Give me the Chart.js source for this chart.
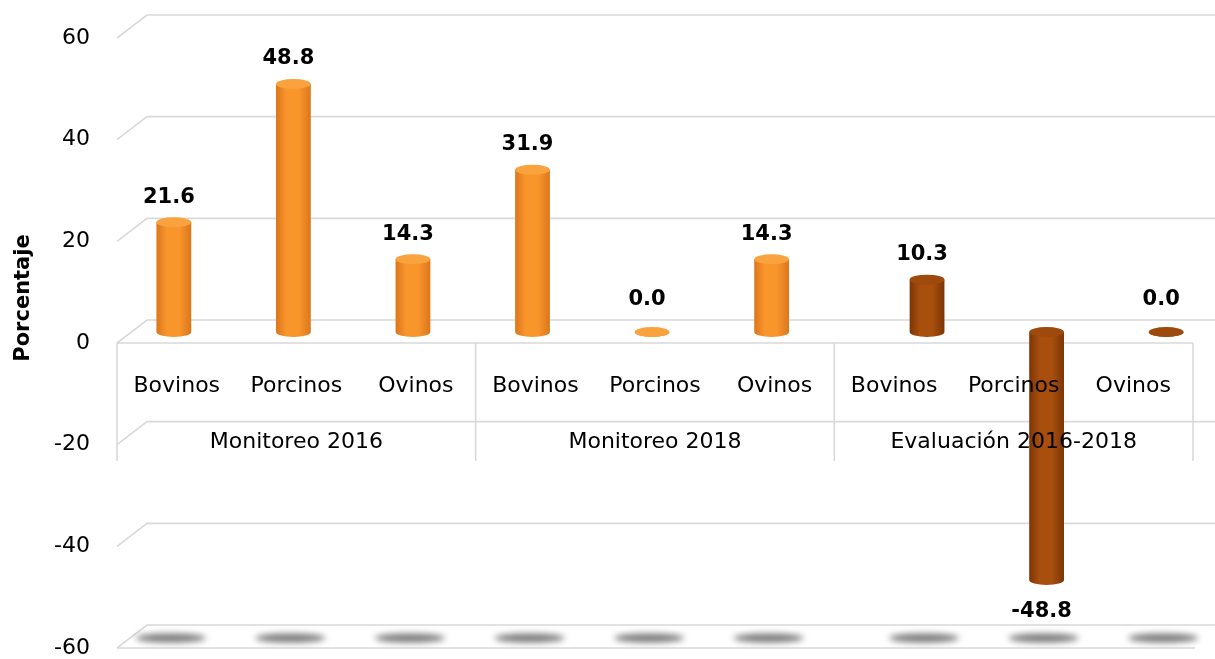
<!DOCTYPE html>
<html><head><meta charset="utf-8">
<script src="https://cdn.jsdelivr.net/npm/chart.js@4.4.1/dist/chart.umd.min.js"></script>
<style>html,body{margin:0;padding:0;background:#fff}#wrap{width:1215px;height:659px;position:relative}</style>
</head><body><div id="wrap"><canvas id="c" width="1215" height="659"></canvas></div>
<script>
const categories = ['Bovinos', 'Porcinos', 'Ovinos', 'Bovinos', 'Porcinos', 'Ovinos', 'Bovinos', 'Porcinos', 'Ovinos'];
const groups = ['Monitoreo 2016', 'Monitoreo 2018', 'Evaluación 2016-2018'];
const monitoreo = [21.6, 48.8, 14.3, 31.9, 0.0, 14.3, null, null, null];
const evaluacion = [null, null, null, null, null, null, 10.3, -48.8, 0.0];
const yTicks = [-60, -40, -20, 0, 20, 40, 60];
const yTitle = 'Porcentaje';

const FONT = '"DejaVu Sans", sans-serif';
const DX = 15, DY = -11, BX = 30, BY = -23;
const palette = [
  {edge: '#DC761C', mid: '#F8962C', cap: '#F9A23E'},
  {edge: '#7C3505', mid: '#A84F0E', cap: '#9E4A0C'}
];

function ellipse(ctx, cx, cy, rx, ry) {
  ctx.beginPath(); ctx.ellipse(cx, cy, rx, ry, 0, 0, Math.PI * 2); ctx.fill();
}

const threeD = {
  id: 'threeD',
  beforeDatasetsDraw(chart) {
    const {ctx, chartArea: a, scales: {x, y}} = chart;
    ctx.save();
    ctx.strokeStyle = '#d9d9d9'; ctx.lineWidth = 1.6;
    const line = (x1, y1, x2, y2) => { ctx.beginPath(); ctx.moveTo(x1, y1); ctx.lineTo(x2, y2); ctx.stroke(); };
    yTicks.forEach(v => {
      const yy = y.getPixelForValue(v);
      ctx.beginPath(); ctx.moveTo(a.left, yy); ctx.lineTo(a.left + BX, yy + BY); ctx.lineTo(chart.width, yy + BY); ctx.stroke();
    });
    const yb = y.getPixelForValue(yTicks[0]);
    line(a.left, yb, a.right + 2, yb);
    const y0 = y.getPixelForValue(0);
    line(a.left, y0, a.right, y0);
    // group dividers
    const bounds = [a.left];
    for (let g = 1; g < groups.length; g++) {
      const i = g * 3;
      bounds.push((x.getPixelForTick(i - 1) + x.getPixelForTick(i)) / 2);
    }
    bounds.push(a.right);
    bounds.forEach(b => line(b, y0, b, y0 + 118));
    chart.$bounds = bounds;
    // floor shadows
    ctx.filter = 'blur(3px)';
    ctx.fillStyle = 'rgba(100,100,100,0.85)';
    chart.data.datasets.forEach((ds, di) => {
      chart.getDatasetMeta(di).data.forEach((el, i) => {
        if (ds.data[i] == null) return;
        ellipse(ctx, el.x + DX - 3, yb + DY + 1, 35, 4.5);
      });
    });
    ctx.filter = 'none';
    ctx.restore();
    // gradients
    chart.data.datasets.forEach((ds, di) => {
      const p = palette[di];
      chart.getDatasetMeta(di).data.forEach((el, i) => {
        if (ds.data[i] == null) return;
        const w = el.width;
        const g = ctx.createLinearGradient(el.x - w / 2, 0, el.x + w / 2, 0);
        g.addColorStop(0, p.edge); g.addColorStop(0.3, p.mid); g.addColorStop(0.65, p.mid); g.addColorStop(1, p.edge);
        el.options = Object.assign({}, el.options, {backgroundColor: g});
        el.$grad = g;
      });
    });
    ctx.save();
    ctx.translate(DX, DY);
  },
  afterDatasetsDraw(chart) {
    const {ctx, chartArea: a, scales: {x, y}} = chart;
    chart.data.datasets.forEach((ds, di) => {
      const p = palette[di];
      chart.getDatasetMeta(di).data.forEach((el, i) => {
        const v = ds.data[i];
        if (v == null) return;
        const rx = el.width / 2, ry = 5;
        const topY = Math.min(el.y, el.base), botY = Math.max(el.y, el.base);
        ctx.fillStyle = el.$grad;
        ctx.beginPath(); ctx.ellipse(el.x, botY, rx, ry, 0, 0, Math.PI); ctx.fill();
        ctx.fillStyle = p.cap;
        ellipse(ctx, el.x, topY, rx, ry);
      });
    });
    // value labels
    ctx.fillStyle = '#000';
    ctx.font = 'bold 21px ' + FONT;
    ctx.textAlign = 'center'; ctx.textBaseline = 'middle';
    chart.data.datasets.forEach((ds, di) => {
      chart.getDatasetMeta(di).data.forEach((el, i) => {
        const v = ds.data[i];
        if (v == null) return;
        const topY = Math.min(el.y, el.base), botY = Math.max(el.y, el.base);
        const ly = v < 0 ? botY + 31 : (v === 0 ? topY - 32 : topY - 25);
        ctx.fillText(v.toFixed(1), el.x - 5, ly);
      });
    });
    ctx.restore();
    // category table text
    ctx.save();
    ctx.fillStyle = '#000';
    ctx.textAlign = 'center'; ctx.textBaseline = 'middle';
    ctx.font = '22px ' + FONT;
    const y0 = y.getPixelForValue(0);
    categories.forEach((c, i) => ctx.fillText(c, x.getPixelForTick(i), y0 + 43));
    const b = chart.$bounds;
    groups.forEach((g, i) => ctx.fillText(g, (b[i] + b[i + 1]) / 2, y0 + 99));
    // axis title
    ctx.font = 'bold 21px ' + FONT;
    ctx.translate(24, 298);
    ctx.rotate(-Math.PI / 2);
    ctx.fillText(yTitle, 0, 0);
    ctx.restore();
  }
};

new Chart(document.getElementById('c'), {
  type: 'bar',
  data: {
    labels: categories,
    datasets: [
      {label: 'Monitoreo', data: monitoreo, backgroundColor: palette[0].mid, borderWidth: 0},
      {label: 'Evaluación', data: evaluacion, backgroundColor: palette[1].mid, borderWidth: 0}
    ]
  },
  options: {
    responsive: false,
    devicePixelRatio: 1,
    animation: false,
    categoryPercentage: 0.6,
    barPercentage: 0.97,
    clip: false,
    layout: {padding: {top: 38, bottom: 11, left: 0, right: 22}},
    plugins: {legend: {display: false}, tooltip: {enabled: false}},
    scales: {
      x: {display: false},
      y: {
        min: -60, max: 60,
        afterBuildTicks: s => { s.ticks = yTicks.map(v => ({value: v})); },
        afterFit: s => { s.width = 117; s.paddingTop = 0; s.paddingBottom = 0; },
        grid: {display: false, drawTicks: false},
        border: {display: false},
        ticks: {color: '#000', font: {size: 22, family: FONT}, padding: 27}
      }
    }
  },
  plugins: [threeD]
});
</script>
</body></html>
